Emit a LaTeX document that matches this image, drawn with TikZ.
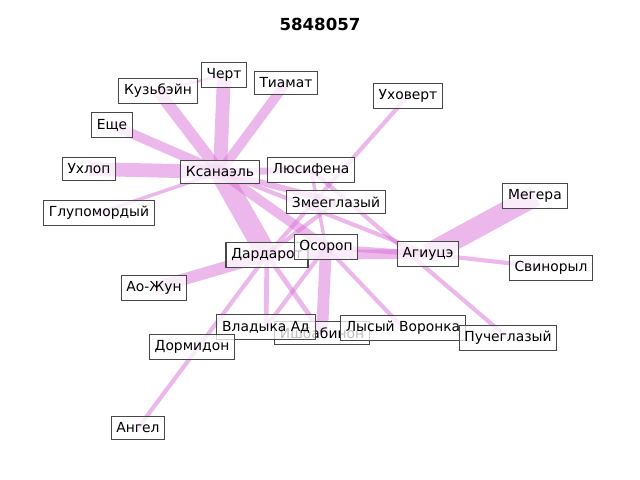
\documentclass[tikz,border=0pt]{standalone}
\usepackage{fontspec}
\setmainfont{DejaVu Sans}
\usetikzlibrary{calc}
\pgfdeclarelayer{background}
\pgfsetlayers{background,main}
\definecolor{orchid}{HTML}{DA70D6}

\begin{document}
\begin{tikzpicture}[x=0.01in,y=-0.01in,
  lbl/.style={draw=black!72,line width=0.75pt,fill=white,fill opacity=0.75,text opacity=1,
    inner xsep=3.8pt,inner ysep=4.4pt,font=\fontsize{10}{12}\selectfont},
  link/.style={draw=orchid,opacity=0.5,line width=#1}]
\useasboundingbox (0,0) rectangle (640,480);
\node[font=\fontsize{12}{14}\selectfont\bfseries] (title) at (320,24) {5848057};

\node[lbl] (cher) at (224,75) {Черт};
\node[lbl] (kuzb) at (158,91) {Кузьбэйн};
\node[lbl] (tiam) at (286,83) {Тиамат};
\node[lbl] (uhov) at (408,96) {Уховерт};
\node[lbl] (esche) at (112,125) {Еще};
\node[lbl] (uhlop) at (89,169) {Ухлоп};
\node[lbl] (ksan) at (220,172) {Ксанаэль};
\node[lbl] (lusi) at (311,170) {Люсифена};
\node[lbl] (glup) at (99,213) {Глупомордый};
\node[lbl] (zmee) at (336,202) {Змееглазый};
\node[lbl] (meg) at (535,196) {Мегера};
\node[lbl] (dard) at (267,255) {Дардарот};
\node[lbl] (osor) at (326,247) {Осороп};
\node[lbl] (agiu) at (428,254) {Агиуцэ};
\node[lbl] (svin) at (551,268) {Свинорыл};
\node[lbl] (aojun) at (154,288) {Ао-Жун};
\node[lbl] (ishb) at (322,333) {Ишбабинон};
\node[lbl] (vlad) at (266,327) {Владыка Ад};
\node[lbl] (lysy) at (403,328) {Лысый Воронка};
\node[lbl] (puch) at (508,338) {Пучеглазый};
\node[lbl] (dorm) at (192,347) {Дормидон};
\node[lbl] (angel) at (138,428) {Ангел};

\begin{pgfonlayer}{background}
% edges of Ksanael
\draw[link=10pt] (ksan.center) -- (cher.center);
\draw[link=8.5pt] (ksan.center) -- (kuzb.center);
\draw[link=7pt] (ksan.center) -- (tiam.center);
\draw[link=7pt] (ksan.center) -- (esche.center);
\draw[link=10pt] (ksan.center) -- (uhlop.center);
\draw[link=2.5pt] (ksan.center) -- (glup.center);
\draw[link=15pt] (ksan.center) -- (dard.center);
\draw[link=7pt] (ksan.center) -- (osor.center);
\draw[link=5pt] (ksan.center) -- (lusi.center);
\draw[link=4.5pt] (ksan.center) -- (zmee.center);
\draw[link=3pt] (ksan.center) -- (agiu.center);
\draw[link=2pt] (kuzb.center) -- (cher.center);
% the rest
\draw[link=15pt] (agiu.center) -- (meg.center);
\draw[link=3pt] (agiu.center) -- (svin.center);
\draw[link=7pt] (dard.center) -- (agiu.center);
\draw[link=4pt] (osor.center) -- (agiu.center);
\draw[link=3pt] (lusi.center) -- (puch.center);
\draw[link=3pt] (uhov.center) -- (dard.center);
\draw[link=3pt] (osor.center) -- (lysy.center);
\draw[link=8.5pt] (osor.center) -- (ishb.center);
\draw[link=3pt] (osor.center) -- (vlad.center);
\draw[link=3pt] (zmee.center) -- (dard.center);
\draw[link=2.5pt] (lusi.center) -- (osor.center);
\draw[link=3.5pt] (dard.center) -- (vlad.center);
\draw[link=3.5pt] (dard.center) -- (ishb.center);
\draw[link=8.5pt] (dard.center) -- (aojun.center);
\draw[link=3pt] (dard.center) -- (angel.center);
\end{pgfonlayer}
\end{tikzpicture}
\end{document}
